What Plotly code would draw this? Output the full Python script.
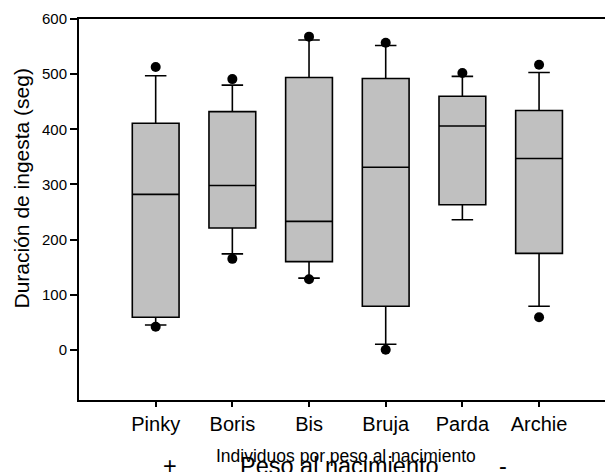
import plotly.graph_objects as go

# Individuals, ordered by birth weight (heaviest first)
individuos = ["Pinky", "Boris", "Bis", "Bruja", "Parda", "Archie"]

# Box-plot statistics of intake duration (seg)
bigote_sup = [497, 480, 562, 552, 496, 503]
q3 = [411, 432, 494, 492, 460, 434]
mediana = [282, 298, 233, 331, 406, 347]
q1 = [59, 221, 160, 79, 263, 175]
bigote_inf = [45, 174, 130, 10, 236, 79]

# Values beyond the whiskers
atipicos_ind = ["Pinky", "Pinky", "Boris", "Boris", "Bis", "Bis",
                "Bruja", "Bruja", "Parda", "Archie", "Archie"]
atipicos_val = [513, 42, 491, 165, 568, 128, 557, 0, 502, 517, 59]

W, H = 605, 472
L, R, T, B = 79, 0, 19, 72
PW, PH = W - L - R, H - T - B


def px_x(px):
    return (px - L) / PW


def px_y(py):
    return (H - B - py) / PH


FONT = "Liberation Sans, Arial, sans-serif"

fig = go.Figure()

fig.add_trace(go.Box(
    x=individuos,
    q1=q1,
    median=mediana,
    q3=q3,
    lowerfence=bigote_inf,
    upperfence=bigote_sup,
    boxpoints=False,
    width=0.61,
    whiskerwidth=0.46,
    fillcolor="#c0c0c0",
    line=dict(color="black", width=1.6),
    showlegend=False,
    hoverinfo="skip",
))

fig.add_trace(go.Scatter(
    x=atipicos_ind,
    y=atipicos_val,
    mode="markers",
    marker=dict(color="black", size=10),
    showlegend=False,
    hoverinfo="skip",
))

fig.update_layout(
    width=W,
    height=H,
    margin=dict(l=L, r=R, t=T, b=B, pad=0),
    paper_bgcolor="white",
    plot_bgcolor="white",
    font=dict(family=FONT, color="black"),
    xaxis=dict(
        type="category",
        categoryorder="array",
        categoryarray=individuos,
        range=[-1, 5.86],
        showgrid=False,
        zeroline=False,
        showline=True,
        linecolor="black",
        linewidth=2,
        mirror=True,
        ticks="outside",
        ticklen=5,
        tickwidth=1.5,
        tickcolor="black",
        tickfont=dict(size=20, family=FONT),
    ),
    yaxis=dict(
        range=[-91, 600],
        tick0=0,
        dtick=100,
        showgrid=False,
        zeroline=False,
        showline=True,
        linecolor="black",
        linewidth=2,
        ticks="outside",
        ticklen=7,
        tickwidth=1.5,
        tickcolor="black",
        tickfont=dict(size=15, family=FONT),
    ),
    annotations=[
        dict(text="Duración de ingesta (seg)", textangle=-90,
             xref="paper", yref="paper", x=px_x(21), y=px_y(188.5),
             xanchor="center", yanchor="middle", showarrow=False,
             font=dict(size=21, family=FONT)),
        dict(text="Individuos por peso al nacimiento",
             xref="paper", yref="paper", x=px_x(214), y=px_y(456),
             xanchor="left", yanchor="middle", showarrow=False,
             font=dict(size=17.5, family=FONT)),
        dict(text="Peso al nacimiento",
             xref="paper", yref="paper", x=px_x(238), y=px_y(466),
             xanchor="left", yanchor="middle", showarrow=False,
             font=dict(size=23.5, family=FONT)),
        dict(text="+",
             xref="paper", yref="paper", x=px_x(170), y=px_y(466),
             xanchor="center", yanchor="middle", showarrow=False,
             font=dict(size=23.5, family=FONT)),
        dict(text="-",
             xref="paper", yref="paper", x=px_x(503), y=px_y(466),
             xanchor="center", yanchor="middle", showarrow=False,
             font=dict(size=23.5, family=FONT)),
    ],
)

fig.write_html("out.html")
